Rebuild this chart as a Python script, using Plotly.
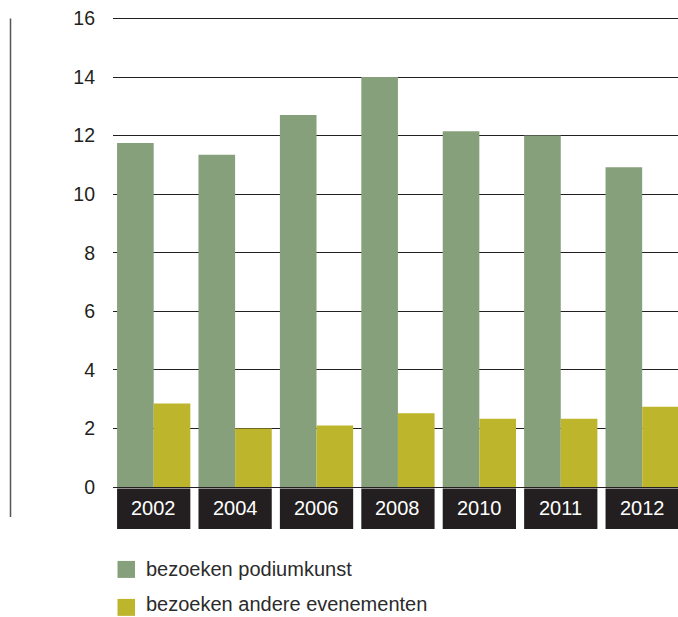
import plotly.graph_objects as go

years = ["2002", "2004", "2006", "2008", "2010", "2011", "2012"]
podiumkunst = [11.75, 11.35, 12.7, 14.0, 12.15, 12.0, 10.92]
andere = [2.85, 2.0, 2.1, 2.52, 2.33, 2.33, 2.74]
y_ticks = [0, 2, 4, 6, 8, 10, 12, 14, 16]
legend_labels = ["bezoeken podiumkunst", "bezoeken andere evenementen"]

GREEN = "#86a07c"
YELLOW = "#bdb52b"
DARK = "#231f20"
TEXT = "#2b2b2b"
FONT = "Liberation Sans, Arial, sans-serif"

W, H = 678, 617
L, R, T, B = 113, 0, 16.5, 130
pw, ph = W - L - R, H - T - B

def px_x(x):
    return (x - L) / pw

def px_y(y):
    return (H - B - y) / ph

fig = go.Figure()
fig.add_bar(x=years, y=podiumkunst, marker_color=GREEN, name=legend_labels[0],
            marker_line_width=0, showlegend=False)
fig.add_bar(x=years, y=andere, marker_color=YELLOW, name=legend_labels[1],
            marker_line_width=0, showlegend=False)

shapes = []
annotations = []
# year boxes
for i, yr in enumerate(years):
    shapes.append(dict(type="rect", xref="x", yref="paper",
                       x0=i - 0.45, x1=i + 0.45, y0=px_y(529), y1=px_y(488.5),
                       fillcolor=DARK, line_width=0, layer="below"))
    annotations.append(dict(x=i, xref="x", yref="paper", y=px_y(508.5),
                            text=yr, showarrow=False, yanchor="middle",
                            font=dict(color="white", size=20, family=FONT)))
# vertical line at far left
shapes.append(dict(type="line", xref="paper", yref="paper",
                   x0=px_x(10.5), x1=px_x(10.5), y0=px_y(517), y1=px_y(18),
                   line=dict(color="#555555", width=1.5)))
# legend
sq_centers = [569.5, 607.5]
txt_centers = [569, 604.5]
for lab, col, cy, ty in zip(legend_labels, [GREEN, YELLOW], sq_centers, txt_centers):
    shapes.append(dict(type="rect", xref="paper", yref="paper",
                       x0=px_x(117.5), x1=px_x(135), y0=px_y(cy + 8.5), y1=px_y(cy - 8.5),
                       fillcolor=col, line_width=0))
    annotations.append(dict(x=px_x(144), y=px_y(ty), xref="paper", yref="paper",
                            text=lab, showarrow=False, xanchor="left", yanchor="middle",
                            font=dict(color=TEXT, size=20, family=FONT)))

fig.update_layout(
    width=W, height=H,
    margin=dict(l=L, r=R, t=T, b=B, autoexpand=False),
    paper_bgcolor="white", plot_bgcolor="white",
    barmode="group", bargap=0.1, bargroupgap=0,
    font=dict(family=FONT, color=DARK, size=19),
    xaxis=dict(type="category", range=[-0.5, 6.44], showticklabels=False, showgrid=False,
               zeroline=False, showline=False, ticks=""),
    yaxis=dict(range=[0, 16.05], tickvals=y_ticks, showgrid=True, gridcolor=DARK,
               gridwidth=1, zeroline=True, zerolinecolor=DARK, zerolinewidth=1,
               showline=False, ticks="", ticklabelstandoff=17,
               tickfont=dict(size=19.5, color=DARK, family=FONT)),
    shapes=shapes, annotations=annotations,
)

fig.write_html("out.html", config={"displayModeBar": False},
               post_script="document.body.style.margin='0';")
